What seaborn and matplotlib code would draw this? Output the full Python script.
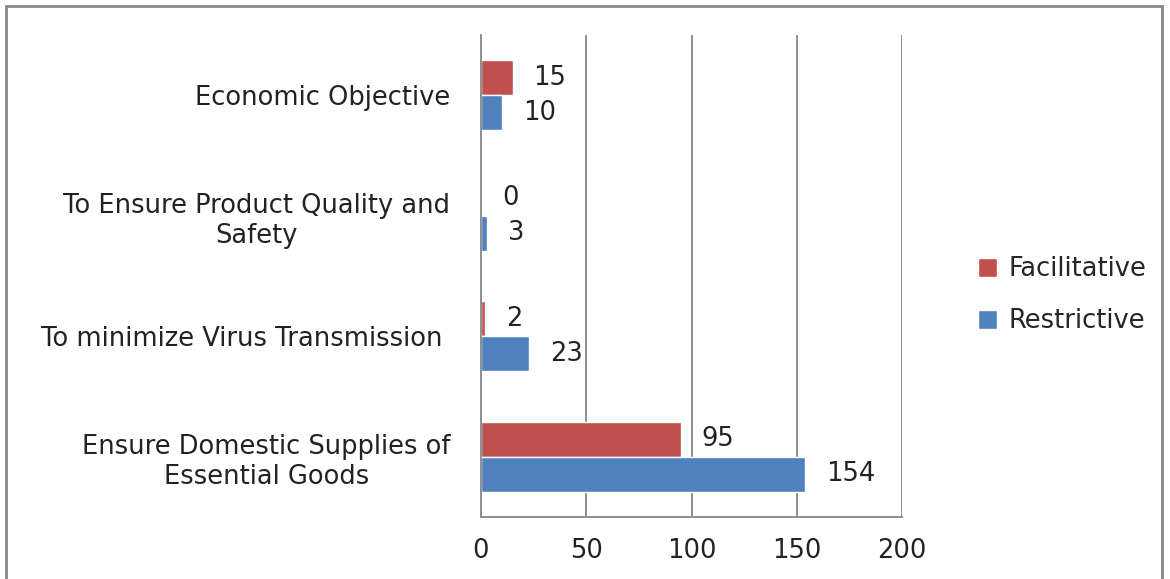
import seaborn as sns
import matplotlib.pyplot as plt
import pandas as pd
from matplotlib.patches import Rectangle

categories = ['Economic Objective',
              'To Ensure Product Quality and\nSafety',
              'To minimize Virus Transmission ',
              'Ensure Domestic Supplies of\nEssential Goods']
facilitative = [15, 0, 2, 95]
restrictive = [10, 3, 23, 154]
series = ['Facilitative', 'Restrictive']
colors = ['#C0504D', '#4F81BD']
xticks = [0, 50, 100, 150, 200]

df = pd.DataFrame({
    'category': categories * 2,
    'value': facilitative + restrictive,
    'series': [series[0]] * 4 + [series[1]] * 4,
})

sns.set_style('white')
plt.rcParams['font.family'] = ['DejaVu Sans']
fs = 18.5

fig = plt.figure(figsize=(11.7, 5.79), dpi=100)
ax = fig.add_axes([481 / 1170, 1 - 517 / 579, 421 / 1170, 482 / 579])

sns.barplot(data=df, y='category', x='value', hue='series', order=categories,
            hue_order=series, palette=colors, width=0.58, orient='h',
            saturation=1, ax=ax, legend=True)

for c in ax.containers:
    ax.bar_label(c, padding=15, fontsize=fs, color='#222222')

ax.set_xlim(0, 200)
ax.set_ylim(3.5, -0.5)
ax.set_xticks(xticks)
ax.set_xticklabels([str(t) for t in xticks], fontsize=fs, color='#222222')
ax.tick_params(axis='x', length=7, color='#868686', width=1.3, pad=8)
ax.set_yticks(range(len(categories)))
ax.set_yticklabels(categories, fontsize=fs, color='#222222', ha='right',
                   multialignment='center')
ax.tick_params(axis='y', which='major', length=0, pad=22)
ax.set_yticks([-0.5, 0.5, 1.5, 2.5, 3.5], minor=True)
ax.tick_params(axis='y', which='minor', length=7, color='#868686', width=1.3)
ax.set_xlabel('')
ax.set_ylabel('')

for t in xticks[1:]:
    ax.axvline(t, color='#868686', lw=1.3, zorder=0)

for s in ['top', 'right']:
    ax.spines[s].set_visible(False)
for s in ['left', 'bottom']:
    ax.spines[s].set_color('#868686')
    ax.spines[s].set_linewidth(1.3)

ax.legend(loc='center left', bbox_to_anchor=(1.125, 0.46), frameon=False,
          fontsize=fs, handlelength=0.75, handleheight=0.75, labelspacing=1.0,
          handletextpad=0.45)

fig.patches.append(Rectangle((6 / 1170, -0.05), 1156 / 1170, 1.05 - 6 / 579,
                             transform=fig.transFigure, fill=False,
                             edgecolor='#878787', lw=2))

fig.savefig('out.png', dpi=100)
